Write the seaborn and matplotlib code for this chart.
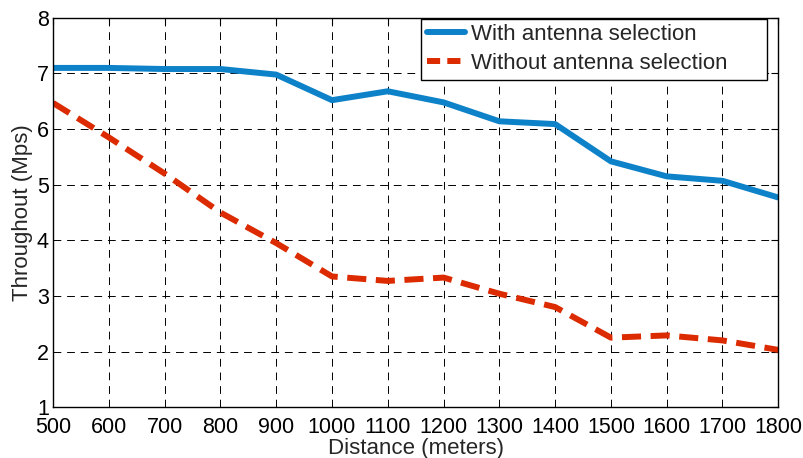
import numpy as np
import pandas as pd
import matplotlib
matplotlib.use("Agg")
import matplotlib.pyplot as plt
import seaborn as sns

distance = [500, 600, 700, 800, 900, 1000, 1100, 1200, 1300, 1400, 1500, 1600, 1700, 1800]
with_sel = [7.10, 7.10, 7.08, 7.08, 6.98, 6.52, 6.68, 6.48, 6.14, 6.09, 5.42, 5.15, 5.07, 4.77]
without_sel = [6.47, 5.85, 5.20, 4.50, 3.95, 3.35, 3.27, 3.33, 3.04, 2.80, 2.25, 2.29, 2.20, 2.03]
series_names = ["With antenna selection", "Without antenna selection"]
xticks = list(range(500, 1801, 100))
yticks = [1, 2, 3, 4, 5, 6, 7, 8]

df = pd.DataFrame({
    "Distance": distance * 2,
    "Throughput": with_sel + without_sel,
    "Series": [series_names[0]] * len(distance) + [series_names[1]] * len(distance),
})

sns.set_style("white")
plt.rcParams['font.family'] = ['Liberation Sans', 'DejaVu Sans']

fig = plt.figure(figsize=(8.04, 4.58), dpi=100)
ax = fig.add_axes([0.066, 0.111, 0.902, 0.850])

palette = {series_names[0]: "#0E82C8", series_names[1]: "#DC2B00"}
sns.lineplot(data=df, x="Distance", y="Throughput", hue="Series", style="Series",
             palette=palette, dashes={series_names[0]: "", series_names[1]: (3.2, 1.6)},
             linewidth=4.3, ax=ax, legend=False)

ax.set_xlim(500, 1800)
ax.set_ylim(1, 8)
ax.set_xticks(xticks)
ax.set_yticks(yticks)
ax.tick_params(direction="in", top=True, right=True, length=5, width=0.8,
               labelsize=15.5, colors="black", pad=3)
ax.tick_params(axis="x", pad=7)
ax.grid(True, color="black", linestyle=(0, (8, 6)), linewidth=0.7)
for s in ax.spines.values():
    s.set_color("black")
    s.set_linewidth(1.0)
ax.set_xlabel("Distance (meters)", fontsize=16, labelpad=0)
ax.set_ylabel("Throughout (Mps)", fontsize=16, labelpad=3)

handles = [plt.Line2D([], [], color=palette[series_names[0]], linewidth=4.3),
           plt.Line2D([], [], color=palette[series_names[1]], linewidth=4.3, linestyle=(0, (2.2, 1.2)))]
leg = ax.legend(handles, series_names, loc="upper left", bbox_to_anchor=(0.508, 0.0, 0.477, 0.998),
                mode="expand", borderaxespad=0, fontsize=16, frameon=True, fancybox=False,
                edgecolor="black", framealpha=1, handlelength=1.7, handletextpad=0.3,
                borderpad=0.25, labelspacing=0.35)
leg.get_frame().set_linewidth(1.0)

fig.savefig("out.png", dpi=100)
